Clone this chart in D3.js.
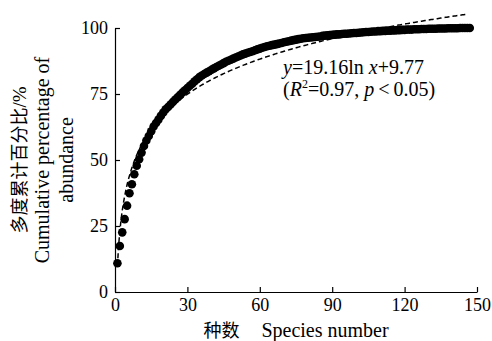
<!DOCTYPE html>
<html>
<head>
<meta charset="utf-8">
<script src="https://cdn.jsdelivr.net/npm/d3@7"></script>
<style>
  body { margin: 0; background: #fff; }
</style>
</head>
<body>
<div id="chart"></div>
<script>
// cumulative percentage of abundance by species rank (1..147)
const cumPct = [
  10.9, 17.4, 22.6, 27.6, 32.7, 37.4, 40.8, 44.6, 47.8, 50.3,
  52.8, 55.3, 57.4, 59.1, 60.9, 62.7, 64.0, 65.3, 66.7, 68.0,
  69.2, 70.1, 71.0, 72.0, 72.9, 73.8, 74.7, 75.6, 76.4, 77.3,
  78.1, 78.9, 79.8, 80.6, 81.4, 82.0, 82.6, 83.1, 83.6, 84.2,
  84.7, 85.2, 85.7, 86.2, 86.7, 87.2, 87.6, 88.0, 88.4, 88.8,
  89.2, 89.6, 90.0, 90.3, 90.6, 90.9, 91.2, 91.6, 91.9, 92.2,
  92.5, 92.8, 93.1, 93.3, 93.5, 93.7, 93.9, 94.1, 94.3, 94.6,
  94.8, 95.0, 95.2, 95.4, 95.6, 95.8, 95.9, 96.1, 96.2, 96.3,
  96.4, 96.5, 96.6, 96.7, 96.8, 97.0, 97.1, 97.2, 97.3, 97.4,
  97.5, 97.6, 97.6, 97.7, 97.8, 97.8, 97.9, 98.0, 98.1, 98.1,
  98.2, 98.3, 98.4, 98.5, 98.5, 98.6, 98.7, 98.7, 98.8, 98.8,
  98.9, 98.9, 99.0, 99.0, 99.1, 99.1, 99.2, 99.2, 99.3, 99.3,
  99.4, 99.4, 99.4, 99.5, 99.5, 99.5, 99.6, 99.6, 99.6, 99.7,
  99.7, 99.7, 99.7, 99.8, 99.8, 99.8, 99.8, 99.9, 99.9, 99.9,
  99.9, 99.9, 100, 100, 100, 100, 100
];
const species = cumPct.map((d, i) => i + 1);

// fitted curve y = a ln x + b
const fitA = 19.16, fitB = 9.77;

const xTicks = [0, 30, 60, 90, 120, 150];
const yTicks = [0, 25, 50, 75, 100];

const SERIF = "'Liberation Serif', 'Times New Roman', serif";
const CJK = "'Noto Sans CJK SC', sans-serif";

const width = 492, height = 341;
const margin = { left: 115, right: 15, top: 28, bottom: 49 };

const svg = d3.select("#chart").append("svg")
  .attr("width", width)
  .attr("height", height);

const x = d3.scaleLinear().domain([0, 150]).range([margin.left, width - margin.right]);
const y = d3.scaleLinear().domain([0, 100]).range([height - margin.bottom, margin.top]);

// axes, ticks pointing inward
const xAxis = svg.append("g")
  .attr("transform", `translate(0,${height - margin.bottom})`)
  .call(d3.axisBottom(x).tickValues(xTicks).tickSizeInner(-5).tickSizeOuter(0).tickPadding(6));

const yAxis = svg.append("g")
  .attr("transform", `translate(${margin.left},0)`)
  .call(d3.axisLeft(y).tickValues(yTicks).tickSizeInner(-5).tickSizeOuter(0).tickPadding(7));

[xAxis, yAxis].forEach(g => {
  g.attr("font-family", SERIF).attr("font-size", 18);
  g.selectAll("path, line").attr("stroke", "#000").attr("stroke-width", 1.2);
  g.selectAll("text").attr("fill", "#000");
});

// dots
svg.append("g")
  .selectAll("circle")
  .data(cumPct)
  .enter().append("circle")
  .attr("cx", (d, i) => x(species[i]))
  .attr("cy", d => y(d))
  .attr("r", 4.3)
  .attr("fill", "#000");

// fitted line (dashed)
const fitLine = d3.line()
  .x(d => x(d))
  .y(d => y(fitA * Math.log(d) + fitB));

svg.append("path")
  .datum(d3.range(1, 146.2, 0.5))
  .attr("d", fitLine)
  .attr("fill", "none")
  .attr("stroke", "#000")
  .attr("stroke-width", 1.5)
  .attr("stroke-dasharray", "5,3");

// equation
const eq = svg.append("text")
  .attr("x", 283)
  .attr("y", 74)
  .attr("font-family", SERIF)
  .attr("font-size", 20);
eq.append("tspan").attr("font-style", "italic").text("y");
eq.append("tspan").text("=19.16ln ");
eq.append("tspan").attr("font-style", "italic").text("x");
eq.append("tspan").text("+9.77");

const eq2 = svg.append("text")
  .attr("x", 283)
  .attr("y", 96)
  .attr("font-family", SERIF)
  .attr("font-size", 20);
eq2.append("tspan").text("(");
eq2.append("tspan").attr("font-style", "italic").text("R");
eq2.append("tspan").attr("font-size", 12).attr("dy", -8).text("2");
eq2.append("tspan").attr("dy", 8).text("=0.97, ");
eq2.append("tspan").attr("font-style", "italic").text("p");
eq2.append("tspan").text("\u2009<\u20090.05)");

// x axis title
const xTitle = svg.append("text")
  .attr("x", (margin.left + width - margin.right) / 2)
  .attr("y", 337)
  .attr("text-anchor", "middle")
  .attr("font-size", 20)
  .attr("font-family", SERIF);
xTitle.append("tspan").attr("font-family", CJK).attr("font-size", 18).text("种数");
xTitle.append("tspan").attr("dx", 22).text("Species number");

// y axis title (three lines)
const cy = (margin.top + height - margin.bottom) / 2;
const yTitleX = [26, 49, 73];
const t0 = svg.append("text")
  .attr("transform", `translate(${yTitleX[0]},${cy}) rotate(-90)`)
  .attr("text-anchor", "middle")
  .attr("font-size", 19)
  .attr("font-family", SERIF);
t0.append("tspan").attr("font-family", CJK).attr("font-size", 18).text("多度累计百分比");
t0.append("tspan").text("/%");

["Cumulative percentage of", "abundance"].forEach((t, i) => {
  svg.append("text")
    .attr("transform", `translate(${yTitleX[i + 1]},${cy}) rotate(-90)`)
    .attr("text-anchor", "middle")
    .attr("font-size", 20)
    .attr("font-family", SERIF)
    .text(t);
});
</script>
</body>
</html>
